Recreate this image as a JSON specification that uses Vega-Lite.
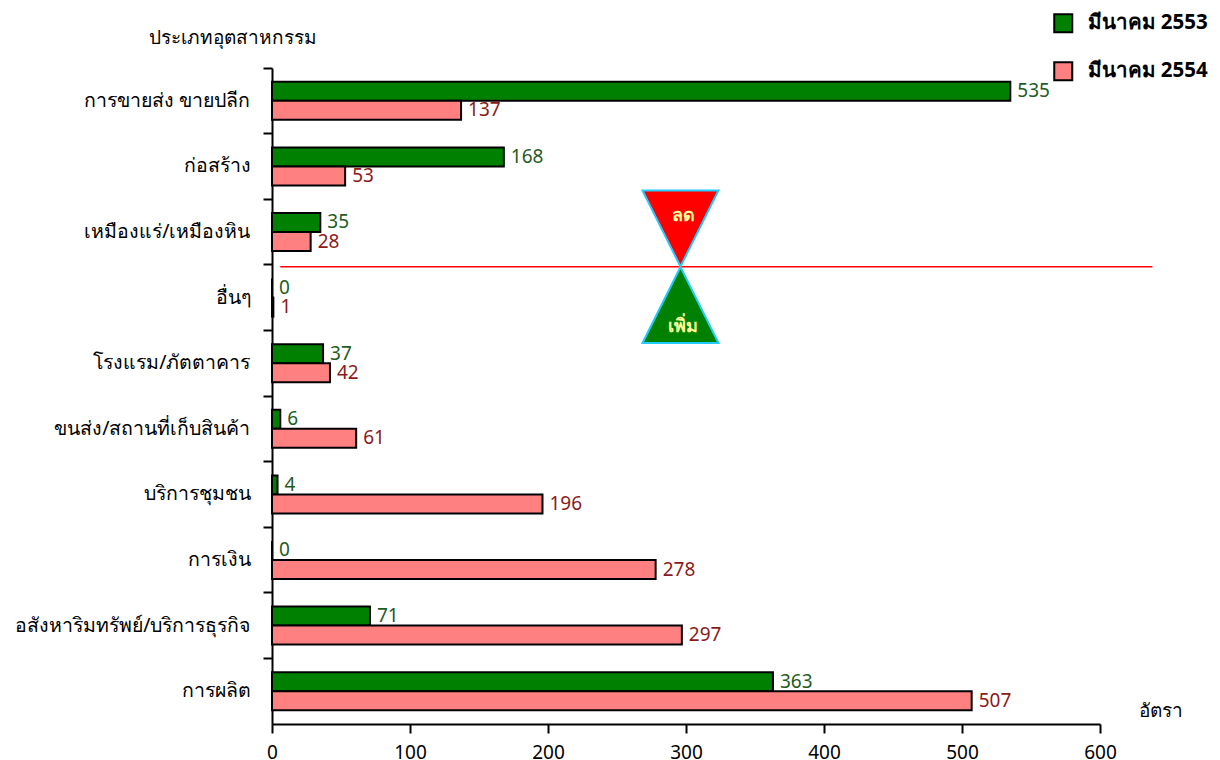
{
  "$schema": "https://vega.github.io/schema/vega-lite/v6.json",
  "autosize": "none",
  "padding": {"left": 272, "top": 68, "right": 120, "bottom": 36},
  "width": 828,
  "height": 656,
  "background": "white",
  "config": {
    "view": {"stroke": null},
    "font": "Noto Sans",
    "axis": {"domainColor": "black", "domainWidth": 2, "tickColor": "black", "tickWidth": 2, "grid": false, "labelColor": "black", "titleColor": "black", "labelFont": "Noto Sans", "titleFont": "Noto Sans", "titleFontWeight": "normal", "labelLimit": 0}
  },
  "datasets": {
    "bars": [
      {"cat": "การขายส่ง ขายปลีก", "series": "มีนาคม 2553", "value": 535},
      {"cat": "การขายส่ง ขายปลีก", "series": "มีนาคม 2554", "value": 137},
      {"cat": "ก่อสร้าง", "series": "มีนาคม 2553", "value": 168},
      {"cat": "ก่อสร้าง", "series": "มีนาคม 2554", "value": 53},
      {"cat": "เหมืองแร่/เหมืองหิน", "series": "มีนาคม 2553", "value": 35},
      {"cat": "เหมืองแร่/เหมืองหิน", "series": "มีนาคม 2554", "value": 28},
      {"cat": "อื่นๆ", "series": "มีนาคม 2553", "value": 0},
      {"cat": "อื่นๆ", "series": "มีนาคม 2554", "value": 1},
      {"cat": "โรงแรม/ภัตตาคาร", "series": "มีนาคม 2553", "value": 37},
      {"cat": "โรงแรม/ภัตตาคาร", "series": "มีนาคม 2554", "value": 42},
      {"cat": "ขนส่ง/สถานที่เก็บสินค้า", "series": "มีนาคม 2553", "value": 6},
      {"cat": "ขนส่ง/สถานที่เก็บสินค้า", "series": "มีนาคม 2554", "value": 61},
      {"cat": "บริการชุมชน", "series": "มีนาคม 2553", "value": 4},
      {"cat": "บริการชุมชน", "series": "มีนาคม 2554", "value": 196},
      {"cat": "การเงิน", "series": "มีนาคม 2553", "value": 0},
      {"cat": "การเงิน", "series": "มีนาคม 2554", "value": 278},
      {"cat": "อสังหาริมทรัพย์/บริการธุรกิจ", "series": "มีนาคม 2553", "value": 71},
      {"cat": "อสังหาริมทรัพย์/บริการธุรกิจ", "series": "มีนาคม 2554", "value": 297},
      {"cat": "การผลิต", "series": "มีนาคม 2553", "value": 363},
      {"cat": "การผลิต", "series": "มีนาคม 2554", "value": 507}
    ],
    "marker": [
      {"cat": "อื่นๆ", "x": 6, "x2": 638}
    ],
    "triangles": [
      {"cat": "เหมืองแร่/เหมืองหิน", "kind": "ลด", "x": 296},
      {"cat": "อื่นๆ", "kind": "เพิ่ม", "x": 296}
    ]
  },
  "layer": [
    {
      "data": {"name": "bars"},
      "mark": {"type": "bar", "stroke": "black", "strokeWidth": 2},
      "encoding": {
        "y": {"field": "cat", "type": "nominal",
          "sort": ["การขายส่ง ขายปลีก", "ก่อสร้าง", "เหมืองแร่/เหมืองหิน", "อื่นๆ", "โรงแรม/ภัตตาคาร", "ขนส่ง/สถานที่เก็บสินค้า", "บริการชุมชน", "การเงิน", "อสังหาริมทรัพย์/บริการธุรกิจ", "การผลิต"],
          "scale": {"paddingInner": 0, "paddingOuter": 0},
          "axis": {"orient": "left", "labels": false, "title": null, "bandPosition": 0, "tickSize": 9, "domain": true}
        },
        "yOffset": {"field": "series", "type": "nominal", "scale": {"paddingInner": 0, "paddingOuter": 0.726}},
        "x": {"field": "value", "type": "quantitative",
          "scale": {"domain": [0, 600], "nice": false},
          "axis": {"values": [0, 100, 200, 300, 400, 500, 600], "tickSize": 9, "labelFontSize": 19, "labelPadding": 10, "labelBaseline": "top", "title": "อัตรา", "titleFontSize": 19, "titleX": 888, "titleY": -14, "titleAlign": "center", "titleBaseline": "middle", "titleFontWeight": "normal", "labelFlush": false}
        },
        "color": {"field": "series", "type": "nominal",
          "scale": {"domain": ["มีนาคม 2553", "มีนาคม 2554"], "range": ["#008000", "#ff8080"]},
          "legend": {"orient": "none", "legendX": 781, "legendY": -55, "title": null, "symbolType": "square", "symbolSize": 324, "symbolStrokeColor": "black", "symbolStrokeWidth": 2, "labelFontSize": 20.5, "labelFontWeight": "bold", "labelColor": "black", "labelOffset": 14, "rowPadding": 21,
            "encode": {"symbols": {"update": {"stroke": {"value": "black"}, "strokeWidth": {"value": 2}}}}}
        }
      }
    },
    {
      "data": {"name": "bars"},
      "mark": {"type": "text", "align": "left", "baseline": "middle", "dx": 7, "fontSize": 19},
      "encoding": {
        "y": {"field": "cat", "type": "nominal",
          "sort": ["การขายส่ง ขายปลีก", "ก่อสร้าง", "เหมืองแร่/เหมืองหิน", "อื่นๆ", "โรงแรม/ภัตตาคาร", "ขนส่ง/สถานที่เก็บสินค้า", "บริการชุมชน", "การเงิน", "อสังหาริมทรัพย์/บริการธุรกิจ", "การผลิต"],
          "axis": {"orient": "left", "ticks": false, "domain": false, "labelFontSize": 19.5, "labelPadding": 22, "title": "ประเภทอุตสาหกรรม", "titleFontSize": 19, "titleAngle": 0, "titleX": -40, "titleY": -31, "titleAlign": "center", "titleBaseline": "middle", "titleFontWeight": "normal"}
        },
        "yOffset": {"field": "series", "type": "nominal"},
        "x": {"field": "value", "type": "quantitative"},
        "text": {"field": "value", "type": "quantitative"},
        "color": {"field": "series", "type": "nominal", "scale": {"domain": ["มีนาคม 2553", "มีนาคม 2554"], "range": ["#1f5c1f", "#8b1a1a"]}, "legend": null}
      }
    },
    {
      "data": {"name": "marker"},
      "mark": {"type": "rule", "color": "#ff0000", "strokeWidth": 1.5},
      "encoding": {
        "y": {"field": "cat", "type": "nominal", "bandPosition": 0.03, "axis": null,
          "sort": ["การขายส่ง ขายปลีก", "ก่อสร้าง", "เหมืองแร่/เหมืองหิน", "อื่นๆ", "โรงแรม/ภัตตาคาร", "ขนส่ง/สถานที่เก็บสินค้า", "บริการชุมชน", "การเงิน", "อสังหาริมทรัพย์/บริการธุรกิจ", "การผลิต"]},
        "x": {"field": "x", "type": "quantitative"},
        "x2": {"field": "x2"}
      }
    },
    {
      "data": {"name": "triangles"},
      "transform": [{"filter": "datum.kind === 'ลด'"}],
      "mark": {"type": "point", "filled": true, "opacity": 1, "shape": "M-1,-1L1,-1L0,1Z", "size": 5776, "fill": "#ff0000", "stroke": "#22ccff", "strokeWidth": 2},
      "encoding": {
        "y": {"field": "cat", "type": "nominal", "bandPosition": 0.447, "axis": null,
          "sort": ["การขายส่ง ขายปลีก", "ก่อสร้าง", "เหมืองแร่/เหมืองหิน", "อื่นๆ", "โรงแรม/ภัตตาคาร", "ขนส่ง/สถานที่เก็บสินค้า", "บริการชุมชน", "การเงิน", "อสังหาริมทรัพย์/บริการธุรกิจ", "การผลิต"]},
        "x": {"field": "x", "type": "quantitative"}
      }
    },
    {
      "data": {"name": "triangles"},
      "transform": [{"filter": "datum.kind === 'เพิ่ม'"}],
      "mark": {"type": "point", "filled": true, "opacity": 1, "shape": "M0,-1L1,1L-1,1Z", "size": 5776, "fill": "#008000", "stroke": "#22ccff", "strokeWidth": 2},
      "encoding": {
        "y": {"field": "cat", "type": "nominal", "bandPosition": 0.613, "axis": null,
          "sort": ["การขายส่ง ขายปลีก", "ก่อสร้าง", "เหมืองแร่/เหมืองหิน", "อื่นๆ", "โรงแรม/ภัตตาคาร", "ขนส่ง/สถานที่เก็บสินค้า", "บริการชุมชน", "การเงิน", "อสังหาริมทรัพย์/บริการธุรกิจ", "การผลิต"]},
        "x": {"field": "x", "type": "quantitative"}
      }
    },
    {
      "data": {"name": "triangles"},
      "transform": [{"filter": "datum.kind === 'ลด'"}],
      "mark": {"type": "text", "align": "center", "baseline": "middle", "fontSize": 18, "fontWeight": "bold", "color": "#ffff99", "dx": 3},
      "encoding": {
        "y": {"field": "cat", "type": "nominal", "bandPosition": 0.26, "axis": null,
          "sort": ["การขายส่ง ขายปลีก", "ก่อสร้าง", "เหมืองแร่/เหมืองหิน", "อื่นๆ", "โรงแรม/ภัตตาคาร", "ขนส่ง/สถานที่เก็บสินค้า", "บริการชุมชน", "การเงิน", "อสังหาริมทรัพย์/บริการธุรกิจ", "การผลิต"]},
        "x": {"field": "x", "type": "quantitative"},
        "text": {"field": "kind"}
      }
    },
    {
      "data": {"name": "triangles"},
      "transform": [{"filter": "datum.kind === 'เพิ่ม'"}],
      "mark": {"type": "text", "align": "center", "baseline": "middle", "fontSize": 18, "fontWeight": "bold", "color": "#ffff99", "dx": 3},
      "encoding": {
        "y": {"field": "cat", "type": "nominal", "bandPosition": 0.95, "axis": null,
          "sort": ["การขายส่ง ขายปลีก", "ก่อสร้าง", "เหมืองแร่/เหมืองหิน", "อื่นๆ", "โรงแรม/ภัตตาคาร", "ขนส่ง/สถานที่เก็บสินค้า", "บริการชุมชน", "การเงิน", "อสังหาริมทรัพย์/บริการธุรกิจ", "การผลิต"]},
        "x": {"field": "x", "type": "quantitative"},
        "text": {"field": "kind"}
      }
    }
  ],
  "resolve": {"axis": {"y": "independent"}, "scale": {"color": "independent"}}
}
